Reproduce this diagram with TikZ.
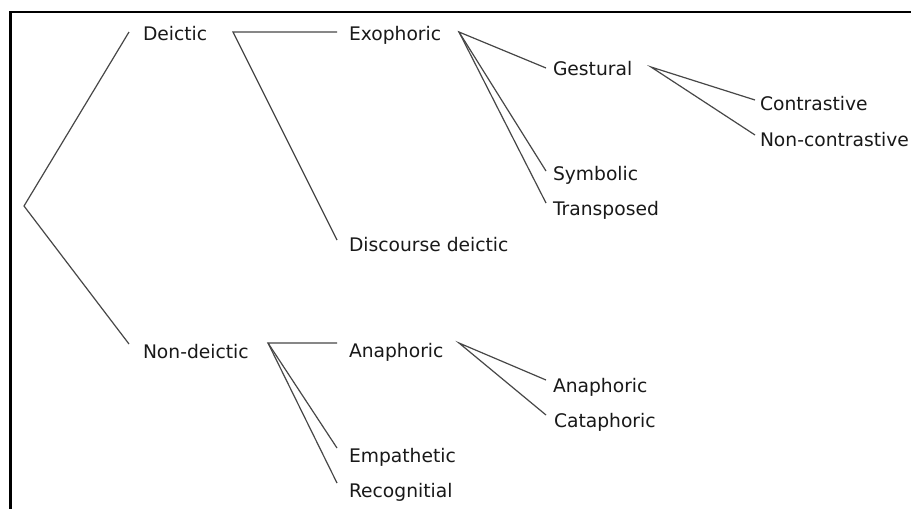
\documentclass[tikz,border=0pt]{standalone}
\usepackage{fontspec}
\setmainfont{DejaVu Sans}
\begin{document}
\begin{tikzpicture}[x=1pt,y=-1pt,
  lbl/.style={anchor=base west,inner sep=0pt,outer sep=0pt,font=\fontsize{18.7}{21}\selectfont,text=black!90},
  edge/.style={draw=black!72,line width=1.2pt},
  frame/.style={draw=black,line width=2.6pt}]
\useasboundingbox (0,0) rectangle (911,509);
\fill[white] (0,0) rectangle (911,509);
% frame (cut at right and bottom)
\draw[frame] (10.5,509) -- (10.5,12) -- (911,12);
% labels
\node[lbl] (deictic)  at (143,40)  {Deictic};
\node[lbl] (nondeic)  at (143,358) {Non-deictic};
\node[lbl] (exo)      at (349,40)  {Exophoric};
\node[lbl] (disc)     at (349,251) {Discourse deictic};
\node[lbl] (gest)     at (553,75)  {Gestural};
\node[lbl] (symb)     at (553,180) {Symbolic};
\node[lbl] (trans)    at (553,215) {Transposed};
\node[lbl] (contr)    at (760,110) {Contrastive};
\node[lbl] (noncontr) at (760,146) {Non-contrastive};
\node[lbl] (ana)      at (349,357) {Anaphoric};
\node[lbl] (emp)      at (349,462) {Empathetic};
\node[lbl] (rec)      at (349,497) {Recognitial};
\node[lbl] (ana2)     at (553,392) {Anaphoric};
\node[lbl] (cata)     at (554,427) {Cataphoric};
% junction points
\coordinate (root)    at (24,206);
\coordinate (deictIn) at (129,32);
\coordinate (nondIn)  at (129,344);
\coordinate (deictOut) at (233,32);
\coordinate (exoIn)   at (337,32);
\coordinate (discIn)  at (337,240);
\coordinate (exoOut)  at (459,32);
\coordinate (gestIn)  at (546,68);
\coordinate (symbIn)  at (546,171);
\coordinate (transIn) at (546,203);
\coordinate (gestOut) at (651,67);
\coordinate (contrIn) at (755,100);
\coordinate (ncontrIn) at (755,135);
\coordinate (nondOut) at (268,343);
\coordinate (anaIn)   at (337,343);
\coordinate (empIn)   at (337,448);
\coordinate (recIn)   at (337,483);
\coordinate (anaOut)  at (459,343);
\coordinate (ana2In)  at (546,380);
\coordinate (cataIn)  at (546,415);
% edges
\draw[edge] (deictIn) -- (root) -- (nondIn);
\draw[edge] (exoIn) -- (deictOut) -- (discIn);
\draw[edge] (gestIn) -- (exoOut) -- (symbIn);
\draw[edge] (exoOut) -- (transIn);
\draw[edge] (contrIn) -- (gestOut) -- (ncontrIn);
\draw[edge] (anaIn) -- (nondOut) -- (empIn);
\draw[edge] (nondOut) -- (recIn);
\draw[edge] (ana2In) -- (anaOut) -- (cataIn);
\end{tikzpicture}
\end{document}
